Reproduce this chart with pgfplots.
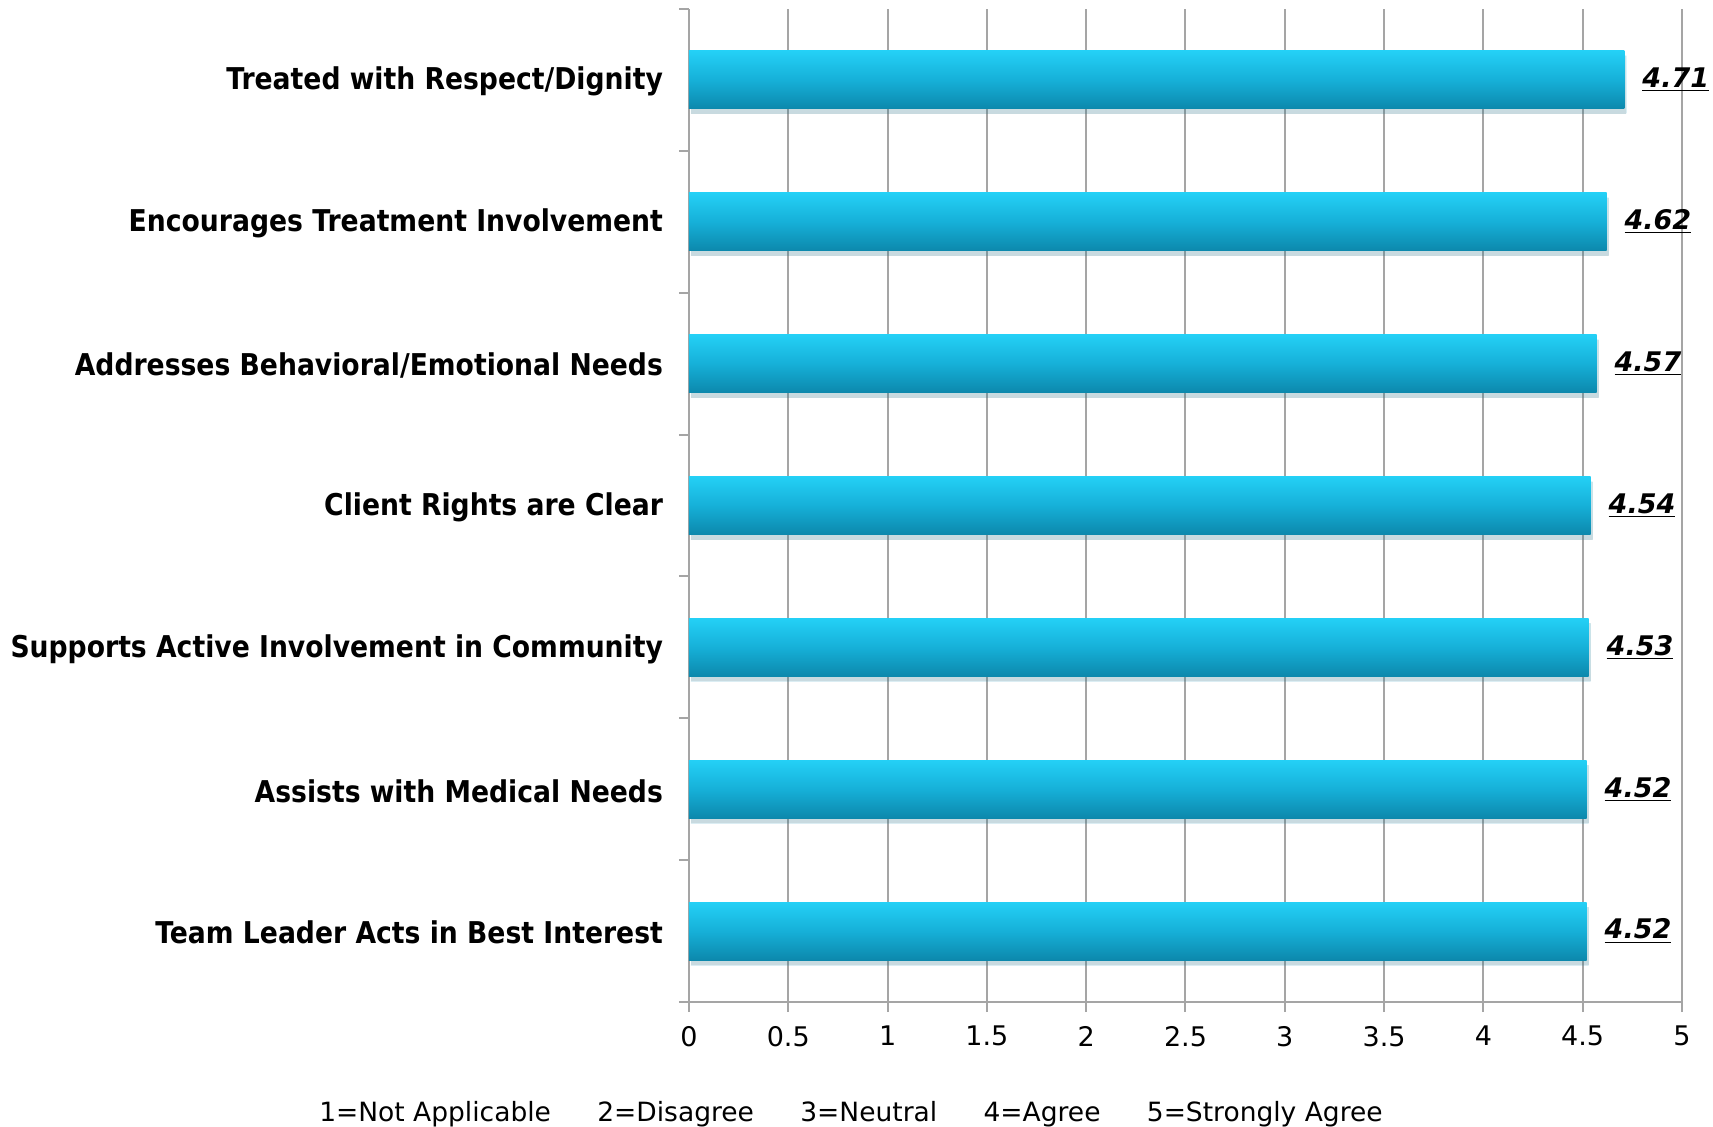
\documentclass[border=0pt]{standalone}
\usepackage{pgfplots}
\pgfplotsset{compat=1.18}
\usetikzlibrary{shadows}
\usepackage{fontspec}
\setmainfont{DejaVu Sans}
\newfontfamily\labelfont[FakeStretch=0.888]{DejaVu Sans}
\definecolor{barTop}{RGB}{36,208,246}
\definecolor{barMid}{RGB}{22,176,216}
\definecolor{barBot}{RGB}{12,136,172}
\definecolor{gridgray}{RGB}{165,165,165}

\pgfplotsset{onebar/.style={draw=none, bar shift=0pt, shade, top color=barTop, bottom color=barBot, middle color=barMid,
	drop shadow={shadow xshift=1pt, shadow yshift=-2.5pt, fill=black!60, opacity=0.15}}}

\begin{document}
\begin{tikzpicture}
\useasboundingbox (-344.5pt,-62pt) rectangle (512pt,501pt);
\begin{axis}[
	scale only axis,
	width=496.5pt, height=496.5pt,
	xbar, bar width=29pt,
	xmin=0, xmax=5,
	xtick={0,0.5,1,1.5,2,2.5,3,3.5,4,4.5,5},
	ymin=-0.5, ymax=6.5,
	ytick={0,1,2,3,4,5,6},
	yticklabels={Team Leader Acts in Best Interest, Assists with Medical Needs, Supports Active Involvement in Community, Client Rights are Clear, Addresses Behavioral/Emotional Needs, Encourages Treatment Involvement, Treated with Respect/Dignity},
	minor ytick={-0.5,0.5,1.5,2.5,3.5,4.5,5.5,6.5},
	axis x line*=bottom, axis y line*=left,
	axis line style={-, draw=gridgray, line width=1pt},
	xmajorgrids=true,
	major grid style={draw=gridgray, line width=1pt},
	tick align=outside,
	major tick length=5pt, minor tick length=5pt,
	major x tick style={draw=gridgray, line width=1pt},
	major y tick style={draw=none},
	minor y tick style={draw=gridgray, line width=1pt},
	/pgf/number format/assume math mode=true,
	xticklabel style={font=\fontsize{13.5}{16}\selectfont, yshift=-3.5pt},
	yticklabel style={font=\labelfont\bfseries\fontsize{15}{18}\selectfont, xshift=-4.5pt, yshift=-0.8pt},
	point meta=x,
	nodes near coords={\underline{\textbf{\textit{\pgfmathprintnumber[fixed,precision=2,fixed zerofill]{\pgfplotspointmeta}}}}},
	nodes near coords style={font=\fontsize{13.5}{16}\selectfont, anchor=west, xshift=5.5pt, text=black},
	]
	\addplot [onebar] coordinates {(4.52,0)};
	\addplot [onebar] coordinates {(4.52,1)};
	\addplot [onebar] coordinates {(4.53,2)};
	\addplot [onebar] coordinates {(4.54,3)};
	\addplot [onebar] coordinates {(4.57,4)};
	\addplot [onebar] coordinates {(4.62,5)};
	\addplot [onebar] coordinates {(4.71,6)};
\end{axis}
\node[font=\fontsize{13.25}{16}\selectfont] at (81pt,-56pt) {1=Not Applicable\hspace{1.75em}2=Disagree\hspace{1.75em}3=Neutral\hspace{1.75em}4=Agree\hspace{1.75em}5=Strongly Agree};
\end{tikzpicture}
\end{document}
